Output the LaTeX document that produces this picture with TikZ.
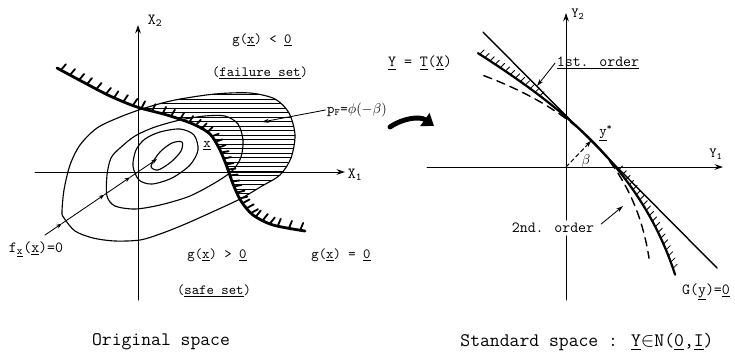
\documentclass[tikz,border=0pt]{standalone}
\usepackage{amsmath,amssymb}
\usepackage{tikz}
\usetikzlibrary{arrows.meta,calc}

\begin{document}
\begin{tikzpicture}[x=0.025cm,y=-0.025cm,line cap=round,line join=round,
  lbl/.style={font=\ttfamily\fontsize{10}{12}\selectfont,inner sep=1pt},
  midlbl/.style={font=\ttfamily\fontsize{11}{13}\selectfont,inner sep=1pt},
  ttl/.style={font=\ttfamily\fontsize{13.6}{16}\selectfont,inner sep=1pt},
  axis/.style={line width=0.7pt,-{Stealth[length=6pt,width=4pt]}},
  contour/.style={line width=0.8pt},
  pointer/.style={line width=0.6pt,-{Stealth[length=5pt,width=3pt]}},
  raypiece/.style={line width=0.6pt,-{Stealth[length=4pt,width=3pt]}},
  tick/.style={line width=1.3pt},
  thintick/.style={line width=0.6pt}]
  \useasboundingbox (0,0) rectangle (735,358);

  % ---------------- original space ----------------
  \coordinate (xo) at (138,172);
  \draw[axis] (35,172) -- (345,172);
  \draw[axis] (138,300) -- (138,25);
  \node[midlbl] (xone) at (355,175) {X\textsubscript{1}};
  \node[midlbl] (xtwo) at (155,21) {X\textsubscript{2}};

  % failure part of the outer contour, hatched horizontally
  \begin{scope}
    \clip plot[smooth cycle] coordinates {(62,212) (64,190) (70,165) (80,145)
      (97,128) (120,117) (145,108) (175,100) (215,94) (250,93) (275,99)
      (289,113) (295,135) (291,158) (280,175) (262,186) (240,199) (210,213)
      (183,225) (160,234) (140,240) (115,241) (93,238) (75,231) (64,218)};
    \clip (40,60) -- plot[smooth] coordinates {(57,68) (83,82) (110,96)
      (137,107) (167,115) (193,124) (210,134) (220,150) (227,167) (233,184)
      (241,201) (253,215) (273,225) (305,231)} -- (400,240) -- (400,0)
      -- (40,0) -- cycle;
    \foreach \h in {90,94.5,...,240}
      \draw[line width=0.6pt] (100,\h) -- (320,\h);
  \end{scope}

  % density contours
  \draw[contour] plot[smooth cycle] coordinates {(62,212) (64,190) (70,165)
    (80,145) (97,128) (120,117) (145,108) (175,100) (215,94) (250,93)
    (275,99) (289,113) (295,135) (291,158) (280,175) (262,186) (240,199)
    (210,213) (183,225) (160,234) (140,240) (115,241) (93,238) (75,231)
    (64,218)};
  \draw[contour] plot[smooth cycle] coordinates {(107,196) (107,175)
    (111,158) (120,148) (135,136) (155,127) (180,120) (205,116) (225,116)
    (238,124) (243,140) (241,157) (233,170) (218,181) (190,196) (160,205)
    (135,209) (115,206)};
  \draw[contour] plot[smooth cycle] coordinates {(133,166) (136,150)
    (145,139) (160,132) (180,129) (194,135) (198,150) (190,165) (172,178)
    (152,184) (139,180)};
  \draw[contour] plot[smooth cycle] coordinates {(151,166) (160,152)
    (172,143) (182,142) (181,151) (171,162) (158,170)};

  % limit state surface with hatching on the failure side
  \foreach \px/\py [count=\i] in {57/68,83/82,110/96,137/107,167/115,
      193/124,210/134,220/150,227/167,233/184,241/201,253/215,273/225,305/231}
    \coordinate (ls\i) at (\px,\py);
  \draw[line width=2pt] plot[smooth] coordinates {(ls1) (ls2) (ls3) (ls4)
    (ls5) (ls6) (ls7) (ls8) (ls9) (ls10) (ls11) (ls12) (ls13) (ls14)};
  \foreach \i [evaluate=\i as \j using int(\i+1)] in {1,...,13}
    \foreach \t in {0.15,0.5,0.85}
      \draw[tick] ($(ls\i)!\t!(ls\j)$) -- ($(ls\i)!\t!(ls\j)!5.5pt!78:(ls\j)$);

  % ray through the contours
  \coordinate (raystart) at (45,235);
  \coordinate (rayend) at (157,159);
  \coordinate (rayA) at ($(raystart)!0.15!(rayend)$);
  \coordinate (rayB) at ($(raystart)!0.53!(rayend)$);
  \coordinate (rayC) at ($(raystart)!0.76!(rayend)$);
  \draw[raypiece] (raystart) -- (rayA);
  \draw[raypiece] (rayA) -- (rayB);
  \draw[raypiece] (rayB) -- (rayC);
  \draw[raypiece] (rayC) -- (rayend);

  \node[lbl] (gneg) at (262,40) {g(\underline{x}) < \underline{0}};
  \node[lbl] (fail) at (260,73) {(\underline{failure set})};
  \node[lbl] (pf) at (357,110) {p\textsubscript{F}=$\phi(-\beta)$};
  \coordinate (pfend) at (262,122);
  \draw[pointer] (pf.west) -- (pfend);
  \node[lbl] (xstar) at (207,146) {\underline{x}};
  \node[midlbl] (fx) at (36,249) {f\textsubscript{\underline{x}}(\underline{x})=0};
  \node[lbl] (gpos) at (217,255) {g(\underline{x}) > \underline{0}};
  \node[lbl] (safe) at (214,291) {(\underline{safe set})};
  \node[lbl] (gzero) at (341,255) {g(\underline{x}) = \underline{0}};
  \node[ttl] (orig) at (161,342) {Original space};

  % mapping arrow
  \coordinate (mapfrom) at (390,127);
  \coordinate (mapto) at (434,126);
  \draw[line width=3.5pt,-{Triangle[length=8pt,width=11pt]}]
    (mapfrom) .. controls (403,118) and (420,116) .. (mapto);
  \node[midlbl] (tmap) at (420,63)
    {\underline{Y} = \underline{T}(\underline{X})};

  % ---------------- standard space ----------------
  \coordinate (yo) at (566,167);
  \coordinate (ystar) at (591.5,140.5);
  \node[midlbl,fill=white,inner sep=2pt] (sorm) at (553,228) {2nd. order};
  \draw[axis] (427,167) -- (723,167);
  \draw[line width=0.7pt] (566,300) -- (sorm.south -| yo);
  \draw[axis] (sorm.north -| yo) -- (566,13);
  \node[lbl] (yone) at (716,154) {Y\textsubscript{1}};
  \node[lbl] (ytwo) at (578,14) {Y\textsubscript{2}};

  % first order: tangent hyperplane
  \coordinate (tanA) at (483,32);
  \coordinate (tanB) at (717,268);
  \draw[line width=1pt] (tanA) -- (tanB);

  % limit state G(y)=0
  \draw[line width=1.6pt] plot[domain=-1.42:1.54,samples=40,smooth]
    ({591.5+(100*\x-(12*\x*\x+2*\x*\x*\x))/1.4142},
     {140.5+(100*\x+(12*\x*\x+2*\x*\x*\x))/1.4142});
  \foreach \s in {-1.40,-1.34,...,-0.64,0.40,0.46,...,1.53} {
    \pgfmathsetmacro{\v}{12*\s*\s+2*\s*\s*\s}
    \draw[thintick] ({591.5+(100*\s-\v)/1.4142},{140.5+(100*\s+\v)/1.4142})
      -- ({591.5+(100*\s-\v+6)/1.4142},{140.5+(100*\s+\v-6)/1.4142});
  }

  % second order: paraboloid
  \draw[line width=1pt,dash pattern=on 6pt off 4pt]
    plot[domain=-1.22:1.24,samples=40,smooth]
    ({591.5+(100*\x-(24*\x*\x+3*\x*\x*\x))/1.4142},
     {140.5+(100*\x+(24*\x*\x+3*\x*\x*\x))/1.4142});

  % reliability index
  \draw[line width=0.7pt,dash pattern=on 3pt off 2pt,
    -{Stealth[length=5pt,width=3pt]}] (yo) -- (ystar);
  \node[lbl] (beta) at (586,161) {$\beta$};
  \node[lbl] (ystarlbl) at (606,133) {\underline{y}\textsuperscript{*}};

  \node[midlbl] (form) at (598,63) {\underline{1st. order}};
  \coordinate (formend) at (537,86);
  \draw[pointer] (form.west) -- (formend);
  \coordinate (sormend) at (623,206);
  \draw[pointer] ($(sorm.east)+(4,-4)$) -- (sormend);
  \node[midlbl] (glim) at (706,292) {G(\underline{y})=\underline{0}};
  \node[ttl] (std) at (587,342)
    {Standard space : \underline{Y}$\in$N(\underline{0},\underline{I})};
\end{tikzpicture}
\end{document}
